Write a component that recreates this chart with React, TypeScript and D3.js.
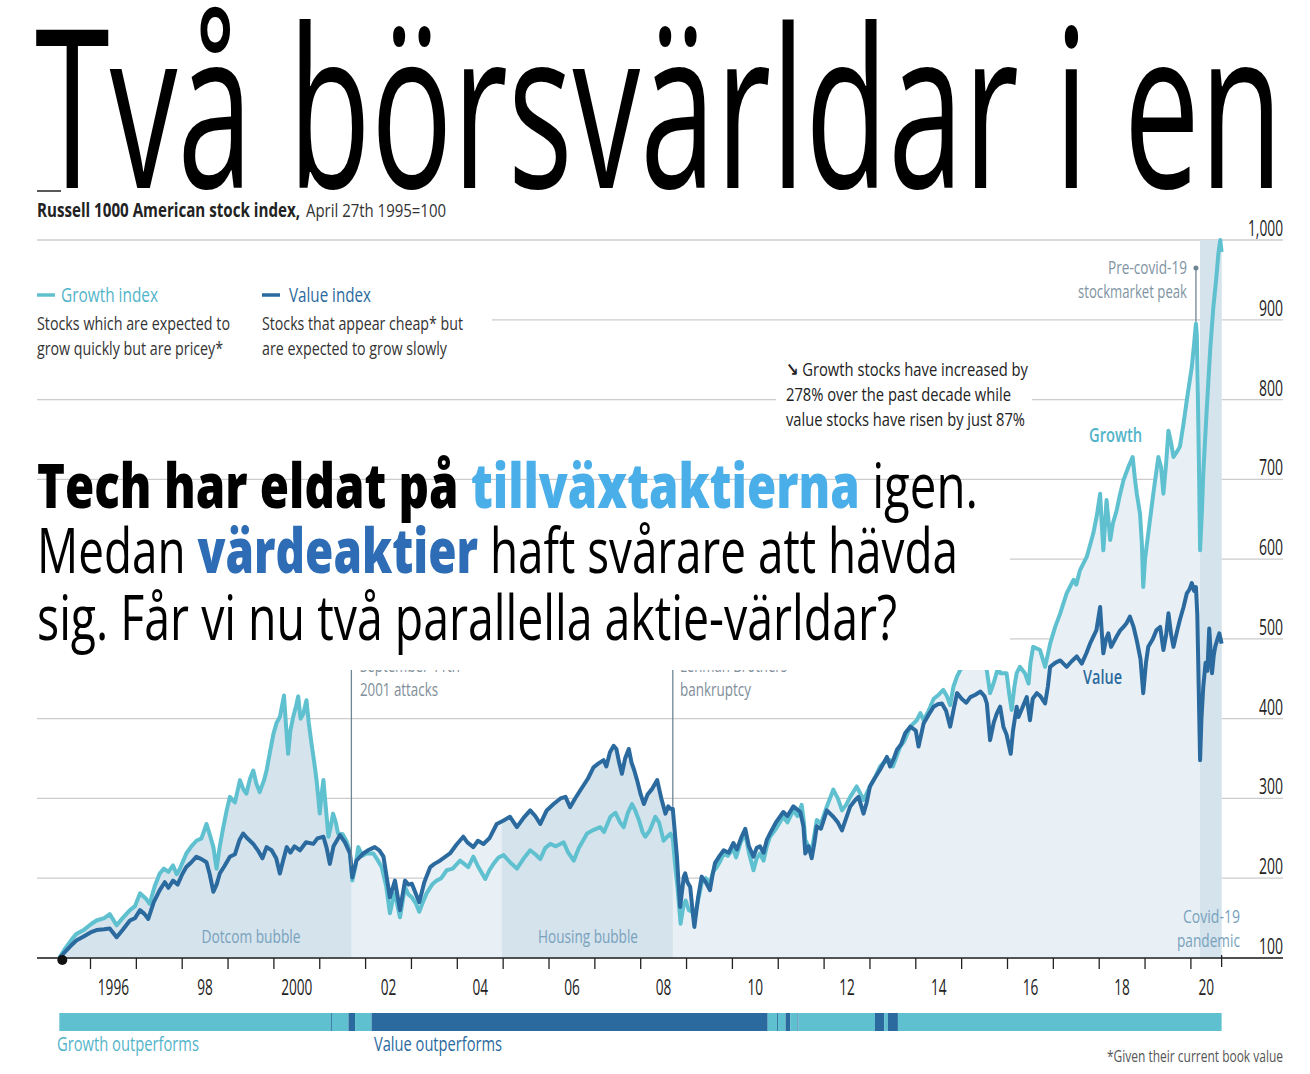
import * as React from 'react';
import * as d3 from 'd3';

// Russell 1000 growth / value, April 27th 1995 = 100, [decimal year, index]
const growthSeries: [number, number][] = [
  [1995.32, 100], [1995.45, 112], [1995.6, 124], [1995.69, 130], [1995.85, 135], [1996.0, 142],
  [1996.13, 147], [1996.3, 150], [1996.42, 155], [1996.57, 141], [1996.7, 150], [1996.86, 160],
  [1996.97, 165], [1997.08, 181], [1997.2, 175], [1997.29, 168], [1997.4, 190], [1997.51, 206],
  [1997.6, 212], [1997.7, 208], [1997.8, 216], [1997.88, 205], [1997.95, 212], [1998.09, 231],
  [1998.2, 240], [1998.31, 247], [1998.42, 250], [1998.53, 268], [1998.6, 255], [1998.68, 239],
  [1998.75, 212], [1998.82, 240], [1998.89, 262], [1998.97, 285], [1999.04, 302], [1999.15, 295],
  [1999.26, 323], [1999.33, 312], [1999.4, 306], [1999.48, 325], [1999.55, 335], [1999.62, 318],
  [1999.69, 308], [1999.78, 322], [1999.84, 335], [1999.92, 360], [1999.99, 381], [2000.06, 395],
  [2000.13, 402], [2000.22, 429], [2000.26, 395], [2000.31, 356], [2000.36, 385], [2000.42, 402],
  [2000.48, 415], [2000.53, 428], [2000.58, 400], [2000.64, 406], [2000.71, 423], [2000.76, 395],
  [2000.82, 369], [2000.88, 345], [2000.93, 323], [2000.97, 300], [2001.0, 281], [2001.04, 305],
  [2001.08, 323], [2001.13, 290], [2001.19, 252], [2001.24, 265], [2001.29, 281], [2001.35, 270],
  [2001.4, 256], [2001.5, 255], [2001.58, 247], [2001.65, 235], [2001.71, 197], [2001.78, 215],
  [2001.84, 239], [2001.93, 228], [2002.02, 231], [2002.17, 231], [2002.27, 222], [2002.35, 214],
  [2002.45, 190], [2002.53, 156], [2002.6, 175], [2002.64, 181], [2002.75, 151], [2002.86, 189],
  [2002.93, 180], [2003.01, 176], [2003.1, 168], [2003.17, 158], [2003.25, 170], [2003.33, 181],
  [2003.45, 192], [2003.55, 197], [2003.65, 200], [2003.77, 210], [2003.9, 212], [2004.06, 222],
  [2004.15, 218], [2004.24, 214], [2004.35, 227], [2004.45, 215], [2004.55, 205], [2004.61, 199],
  [2004.7, 210], [2004.79, 218], [2004.9, 226], [2005.01, 229], [2005.15, 220], [2005.3, 212],
  [2005.45, 225], [2005.59, 235], [2005.7, 230], [2005.81, 224], [2005.92, 238], [2006.03, 243],
  [2006.15, 240], [2006.32, 245], [2006.42, 232], [2006.54, 222], [2006.65, 238], [2006.75, 248],
  [2006.83, 256], [2006.95, 260], [2007.12, 264], [2007.2, 258], [2007.34, 277], [2007.45, 282],
  [2007.55, 270], [2007.63, 264], [2007.72, 282], [2007.81, 293], [2007.88, 285], [2007.96, 273],
  [2008.04, 258], [2008.1, 252], [2008.2, 260], [2008.32, 277], [2008.4, 270], [2008.5, 247],
  [2008.58, 252], [2008.65, 256], [2008.7, 250], [2008.76, 210], [2008.8, 190], [2008.87, 143],
  [2008.93, 165], [2008.98, 172], [2009.05, 160], [2009.12, 158], [2009.17, 150], [2009.25, 172],
  [2009.33, 194], [2009.42, 200], [2009.51, 194], [2009.58, 208], [2009.66, 214], [2009.74, 222],
  [2009.81, 231], [2009.9, 228], [2010.02, 237], [2010.08, 226], [2010.18, 245], [2010.28, 256],
  [2010.36, 232], [2010.46, 210], [2010.53, 225], [2010.6, 231], [2010.68, 222], [2010.75, 240],
  [2010.82, 252], [2010.95, 262], [2011.11, 277], [2011.2, 270], [2011.33, 285], [2011.42, 278],
  [2011.51, 292], [2011.56, 270], [2011.59, 248], [2011.66, 240], [2011.73, 235], [2011.79, 255],
  [2011.84, 273], [2011.93, 268], [2012.06, 290], [2012.2, 311], [2012.3, 300], [2012.39, 285],
  [2012.48, 292], [2012.57, 302], [2012.71, 315], [2012.8, 305], [2012.86, 298], [2013.0, 315],
  [2013.1, 325], [2013.22, 340], [2013.3, 345], [2013.44, 348], [2013.5, 340], [2013.66, 365],
  [2013.75, 372], [2013.88, 390], [2014.02, 398], [2014.1, 407], [2014.17, 398], [2014.28, 410],
  [2014.39, 425], [2014.5, 430], [2014.6, 436], [2014.68, 428], [2014.75, 417], [2014.82, 440],
  [2014.9, 453], [2014.97, 461], [2015.1, 470], [2015.25, 478], [2015.4, 482], [2015.5, 480],
  [2015.62, 432], [2015.7, 445], [2015.8, 465], [2015.84, 457], [2015.98, 457], [2016.04, 430],
  [2016.09, 411], [2016.15, 440], [2016.2, 457], [2016.27, 465], [2016.38, 457], [2016.46, 444],
  [2016.5, 470], [2016.56, 490], [2016.71, 486], [2016.82, 465], [2016.93, 494], [2017.04, 515],
  [2017.15, 532], [2017.29, 557], [2017.44, 574], [2017.5, 568], [2017.58, 586], [2017.73, 603],
  [2017.87, 632], [2017.95, 655], [2018.02, 682], [2018.06, 640], [2018.09, 611], [2018.16, 674],
  [2018.2, 650], [2018.24, 624], [2018.3, 645], [2018.38, 661], [2018.45, 680], [2018.53, 699],
  [2018.64, 716], [2018.73, 728], [2018.78, 700], [2018.82, 682], [2018.89, 657], [2018.93, 620],
  [2018.96, 565], [2019.0, 600], [2019.07, 632], [2019.18, 682], [2019.29, 728], [2019.35, 715],
  [2019.4, 682], [2019.46, 720], [2019.51, 761], [2019.57, 745], [2019.62, 728], [2019.7, 735],
  [2019.76, 741], [2019.84, 770], [2019.91, 799], [2020.02, 841], [2020.07, 870], [2020.11, 895],
  [2020.13, 880], [2020.15, 812], [2020.18, 700], [2020.2, 611], [2020.24, 660], [2020.27, 707],
  [2020.34, 782], [2020.42, 862], [2020.49, 916], [2020.55, 950], [2020.6, 983], [2020.64, 1000],
  [2020.67, 985],
];

const valueSeries: [number, number][] = [
  [1995.32, 100], [1995.45, 108], [1995.6, 117], [1995.69, 122], [1995.85, 127], [1996.0, 132],
  [1996.13, 135], [1996.3, 136], [1996.42, 137], [1996.57, 126], [1996.7, 135], [1996.86, 147],
  [1996.97, 150], [1997.08, 160], [1997.18, 155], [1997.26, 149], [1997.38, 170], [1997.51, 185],
  [1997.62, 195], [1997.7, 188], [1997.8, 197], [1997.9, 192], [1998.0, 205], [1998.09, 214],
  [1998.2, 220], [1998.31, 227], [1998.42, 224], [1998.53, 220], [1998.6, 205], [1998.68, 183],
  [1998.75, 192], [1998.82, 206], [1998.92, 215], [1999.04, 227], [1999.15, 230], [1999.25, 248],
  [1999.33, 256], [1999.42, 250], [1999.55, 243], [1999.65, 235], [1999.75, 225], [1999.84, 239],
  [1999.95, 235], [2000.05, 225], [2000.13, 206], [2000.2, 222], [2000.28, 239], [2000.36, 232],
  [2000.45, 240], [2000.57, 235], [2000.7, 245], [2000.86, 243], [2000.95, 250], [2001.08, 252],
  [2001.15, 238], [2001.22, 218], [2001.3, 240], [2001.44, 254], [2001.55, 245], [2001.66, 231],
  [2001.71, 201], [2001.8, 222], [2001.95, 231], [2002.05, 235], [2002.2, 239], [2002.3, 235],
  [2002.39, 227], [2002.45, 205], [2002.53, 176], [2002.64, 197], [2002.75, 160], [2002.86, 197],
  [2002.93, 192], [2003.01, 193], [2003.1, 180], [2003.17, 170], [2003.28, 195], [2003.41, 214],
  [2003.5, 218], [2003.62, 222], [2003.72, 226], [2003.84, 231], [2003.98, 242], [2004.13, 252],
  [2004.22, 245], [2004.35, 239], [2004.45, 247], [2004.57, 243], [2004.7, 250], [2004.86, 268],
  [2005.0, 272], [2005.15, 277], [2005.3, 264], [2005.45, 276], [2005.59, 285], [2005.7, 278],
  [2005.81, 268], [2005.95, 285], [2006.1, 293], [2006.25, 300], [2006.36, 302], [2006.46, 289],
  [2006.57, 300], [2006.68, 310], [2006.85, 325], [2006.97, 339], [2007.08, 344], [2007.19, 348],
  [2007.25, 340], [2007.33, 358], [2007.41, 366], [2007.47, 362], [2007.53, 345], [2007.59, 331],
  [2007.66, 350], [2007.74, 362], [2007.8, 345], [2007.86, 335], [2007.92, 323], [2008.0, 305],
  [2008.07, 293], [2008.15, 305], [2008.25, 312], [2008.36, 323], [2008.45, 300], [2008.54, 281],
  [2008.6, 290], [2008.65, 287], [2008.7, 287], [2008.76, 247], [2008.79, 227], [2008.83, 189],
  [2008.86, 164], [2008.94, 202], [2008.97, 206], [2009.02, 195], [2009.08, 189], [2009.13, 160],
  [2009.17, 139], [2009.25, 175], [2009.33, 202], [2009.42, 195], [2009.51, 185], [2009.57, 205],
  [2009.62, 219], [2009.72, 228], [2009.81, 235], [2009.92, 232], [2010.02, 244], [2010.1, 236],
  [2010.2, 252], [2010.28, 262], [2010.36, 240], [2010.46, 227], [2010.53, 238], [2010.6, 240],
  [2010.68, 232], [2010.75, 248], [2010.82, 256], [2010.95, 270], [2011.11, 283], [2011.2, 278],
  [2011.33, 290], [2011.48, 283], [2011.55, 265], [2011.59, 231], [2011.66, 240], [2011.73, 225],
  [2011.79, 245], [2011.84, 265], [2011.93, 262], [2012.06, 285], [2012.2, 277], [2012.3, 270],
  [2012.39, 260], [2012.48, 275], [2012.57, 290], [2012.68, 298], [2012.75, 302], [2012.86, 281],
  [2012.93, 295], [2013.0, 315], [2013.1, 325], [2013.22, 336], [2013.37, 352], [2013.44, 340],
  [2013.52, 350], [2013.59, 361], [2013.68, 368], [2013.77, 382], [2013.88, 390], [2014.0, 385],
  [2014.06, 365], [2014.17, 394], [2014.28, 405], [2014.39, 415], [2014.48, 418], [2014.57, 419],
  [2014.66, 410], [2014.75, 390], [2014.82, 410], [2014.9, 432], [2015.0, 425], [2015.1, 420],
  [2015.19, 427], [2015.3, 430], [2015.41, 434], [2015.5, 428], [2015.55, 419], [2015.62, 373],
  [2015.7, 395], [2015.77, 407], [2015.84, 415], [2015.91, 390], [2015.98, 380], [2016.07, 356],
  [2016.12, 385], [2016.2, 415], [2016.24, 402], [2016.42, 427], [2016.49, 398], [2016.55, 425],
  [2016.64, 432], [2016.72, 428], [2016.82, 419], [2016.88, 440], [2016.93, 465], [2017.04, 470],
  [2017.15, 473], [2017.29, 465], [2017.4, 472], [2017.51, 478], [2017.62, 469], [2017.72, 482],
  [2017.8, 494], [2017.94, 511], [2018.02, 540], [2018.06, 505], [2018.09, 482], [2018.15, 500],
  [2018.2, 507], [2018.26, 490], [2018.38, 503], [2018.45, 510], [2018.53, 515], [2018.6, 520],
  [2018.67, 528], [2018.75, 515], [2018.82, 498], [2018.9, 475], [2018.96, 432], [2019.02, 470],
  [2019.07, 490], [2019.17, 500], [2019.25, 511], [2019.33, 515], [2019.4, 486], [2019.46, 505],
  [2019.51, 532], [2019.57, 505], [2019.62, 490], [2019.7, 510], [2019.76, 524], [2019.84, 540],
  [2019.91, 557], [2019.97, 562], [2020.02, 570], [2020.07, 560], [2020.11, 565], [2020.14, 530],
  [2020.17, 440], [2020.2, 348], [2020.23, 400], [2020.27, 440], [2020.32, 470], [2020.36, 460],
  [2020.4, 513], [2020.44, 475], [2020.46, 457], [2020.5, 480], [2020.53, 490], [2020.58, 500],
  [2020.62, 507], [2020.67, 494],
];

const yTicks = [100, 200, 300, 400, 500, 600, 700, 800, 900, 1000];
const yearTicks = [1996, 1997, 1998, 1999, 2000, 2001, 2002, 2003, 2004, 2005, 2006, 2007, 2008,
  2009, 2010, 2011, 2012, 2013, 2014, 2015, 2016, 2017, 2018, 2019, 2020];
const yearLabels: [number, string][] = [[1996, '1996'], [1998, '98'], [2000, '2000'], [2002, '02'],
  [2004, '04'], [2006, '06'], [2008, '08'], [2010, '10'], [2012, '12'], [2014, '14'],
  [2016, '16'], [2018, '18'], [2020, '20']];

const startYear = 1995.32;
const endYear = 2020.67;

const bubbles = [
  { from: 1995.32, to: 2001.69, label: 'Dotcom bubble' },
  { from: 2004.97, to: 2008.7, label: 'Housing bubble' },
];
const covid = { from: 2020.2, to: 2020.67 };
const events = [
  { at: 2001.69, lines: ['September 11th', '2001 attacks'] },
  { at: 2008.7, lines: ['Lehman Brothers', 'bankruptcy'] },
];
const peakYear = 2020.11;

// who outperforms, [from, to, leader]
const leaders: [number, number, 'g' | 'v'][] = [
  [1995.32, 2001.245, 'g'], [2001.245, 2001.265, 'v'], [2001.265, 2001.627, 'g'],
  [2001.627, 2001.77, 'v'], [2001.77, 2002.13, 'g'], [2002.13, 2010.77, 'v'],
  [2010.77, 2010.975, 'g'], [2010.975, 2010.995, 'v'], [2010.995, 2011.16, 'g'],
  [2011.16, 2011.26, 'v'], [2011.26, 2011.42, 'g'], [2011.42, 2011.44, 'v'],
  [2011.44, 2013.11, 'g'], [2013.11, 2013.31, 'v'], [2013.31, 2013.39, 'g'],
  [2013.39, 2013.61, 'v'], [2013.61, 2020.67, 'g'],
];

const GROWTH = '#5fc0d0';
const VALUE = '#2b6a9e';
const GROWTH_TXT = '#52b4c9';
const FONT = "'Open Sans', sans-serif";

const x = d3.scaleLinear().domain([1996, 2020]).range([90.5, 1190.9]);
const y = d3.scaleLinear().domain([100, 1000]).range([958, 240]);

function interp(s: [number, number][], t: number): number {
  const i = d3.bisector((d: [number, number]) => d[0]).left(s, t);
  if (i <= 0) return s[0][1];
  if (i >= s.length) return s[s.length - 1][1];
  const [x0, y0] = s[i - 1];
  const [x1, y1] = s[i];
  if (x1 === t) return y1;
  return y0 + (y1 - y0) * (t - x0) / (x1 - x0);
}

function Txt(props: { x: number; y: number; w?: number; size?: number; anchor?: string; weight?: number; fill?: string; children: React.ReactNode }) {
  const { x, y, w, size = 19, anchor = 'start', weight = 400, fill = '#333', children } = props;
  return (
    <text x={x} y={y} fontSize={size} fontWeight={weight} fill={fill} textAnchor={anchor}
      textLength={w} lengthAdjust={w ? 'spacingAndGlyphs' : undefined} fontFamily={FONT}>
      {children}
    </text>
  );
}

export default function App() {
  const years = Array.from(new Set([...growthSeries.map(d => d[0]), ...valueSeries.map(d => d[0])])).sort((a, b) => a - b);
  const envelope: [number, number][] = years.map(t => [t, Math.max(interp(growthSeries, t), interp(valueSeries, t))]);

  const line = d3.line<[number, number]>().x(d => x(d[0])).y(d => y(d[1]));
  const area = d3.area<[number, number]>().x(d => x(d[0])).y0(y(100)).y1(d => y(d[1]));

  return (
    <svg width={1310} height={1074} style={{ position: 'absolute', left: 0, top: 0, background: '#fff' }}>
      <defs>
        {bubbles.map((b, i) => (
          <clipPath id={`bubble-${i}`} key={i}>
            <rect x={x(b.from)} y={0} width={x(b.to) - x(b.from)} height={1074} />
          </clipPath>
        ))}
      </defs>

      {/* title */}
      <text x={35} y={188} fontSize={222} fontFamily={FONT} fill="#000" textLength={1248} lengthAdjust="spacingAndGlyphs">Två börsvärldar i en</text>
      <line x1={37} x2={61} y1={191} y2={191} stroke="#222" strokeWidth={1.5} />
      <Txt x={37} y={217} w={263} size={19} weight={700} fill="#222">Russell 1000 American stock index,</Txt>
      <Txt x={306} y={217} w={140} size={19} fill="#333">April 27th 1995=100</Txt>

      {/* grid */}
      {yTicks.map(t => (
        <line key={t} x1={37} x2={1283} y1={y(t)} y2={y(t)} stroke="#cccccc" strokeWidth={1.3} />
      ))}

      {/* shading */}
      <path d={area(envelope) || ''} fill="#e9f0f5" />
      {bubbles.map((b, i) => (
        <path key={i} d={area(envelope) || ''} fill="#d4e3ec" clipPath={`url(#bubble-${i})`} />
      ))}
      <rect x={x(covid.from)} y={y(1000)} width={x(covid.to) - x(covid.from)} height={y(100) - y(1000)} fill="#d4e3ec" />

      {/* lines */}
      <path d={line(growthSeries) || ''} fill="none" stroke={GROWTH} strokeWidth={4} strokeLinejoin="round" />
      <path d={line(valueSeries) || ''} fill="none" stroke={VALUE} strokeWidth={4} strokeLinejoin="round" />

      {/* event markers */}
      {events.map((e, i) => (
        <line key={i} x1={x(e.at)} x2={x(e.at)} y1={655} y2={y(interp(envelope, e.at)) - 2} stroke="#6f8594" strokeWidth={1.3} />
      ))}
      <line x1={x(peakYear)} x2={x(peakYear)} y1={268} y2={y(interp(growthSeries, peakYear)) - 2} stroke="#6f8594" strokeWidth={1.3} />
      <circle cx={x(peakYear)} cy={268} r={2.5} fill="#6f8594" />
      <Txt x={1187} y={274} w={79} size={18} anchor="end" fill="#8094a3">Pre-covid-19</Txt>
      <Txt x={1187} y={298} w={109} size={18} anchor="end" fill="#8094a3">stockmarket peak</Txt>

      {/* x axis */}
      <line x1={37} x2={1283} y1={958} y2={958} stroke="#222" strokeWidth={1.5} />
      {yearTicks.map(t => (
        <line key={t} x1={x(t)} x2={x(t)} y1={958} y2={969} stroke="#222" strokeWidth={1.3} />
      ))}
      <line x1={x(endYear)} x2={x(endYear)} y1={955} y2={967} stroke="#222" strokeWidth={1.3} />
      {yearLabels.map(([t, s]) => {
        const mid = t === 2020 ? (x(t) + x(endYear)) / 2 : x(t + 0.5);
        return <Txt key={t} x={mid} y={995} w={s.length * 7.8} size={21} anchor="middle" fill="#222">{s}</Txt>;
      })}
      <circle cx={x(startYear) + 3} cy={960} r={5} fill="#111" />

      {/* y labels */}
      {yTicks.map(t => {
        const s = d3.format(',')(t);
        return <Txt key={t} x={1283} y={y(t) - 4} w={s.length === 5 ? 35 : 24} size={21} anchor="end" fill="#222">{s}</Txt>;
      })}

      {/* bubble labels */}
      <Txt x={251} y={943} w={99} size={19} anchor="middle" fill="#79a1bc">{bubbles[0].label}</Txt>
      <Txt x={588} y={943} w={100} size={19} anchor="middle" fill="#79a1bc">{bubbles[1].label}</Txt>
      <Txt x={1240} y={923} w={57} size={19} anchor="end" fill="#79a1bc">Covid-19</Txt>
      <Txt x={1240} y={947} w={63} size={19} anchor="end" fill="#79a1bc">pandemic</Txt>

      {/* series labels */}
      <Txt x={1089} y={442} w={53} size={20} weight={600} fill={GROWTH_TXT}>Growth</Txt>
      <Txt x={1083} y={684} w={39} size={20} weight={600} fill={VALUE}>Value</Txt>

      {/* event labels */}
      <Txt x={360} y={672} w={100} size={18} fill="#7f8e99">{events[0].lines[0]}</Txt>
      <Txt x={680} y={672} w={107} size={18} fill="#7f8e99">{events[1].lines[0]}</Txt>

      {/* white panels */}
      <rect x={30} y={280} width={462} height={80} fill="#fff" />
      <rect x={776} y={352} width={256} height={80} fill="#fff" />
      <rect x={30} y={482} width={980} height={188} fill="#fff" />

      <Txt x={360} y={696} w={78} size={18} fill="#7f8e99">{events[0].lines[1]}</Txt>
      <Txt x={680} y={696} w={71} size={18} fill="#7f8e99">{events[1].lines[1]}</Txt>

      {/* legend */}
      <line x1={37} x2={55} y1={295} y2={295} stroke={GROWTH} strokeWidth={3.5} />
      <Txt x={61} y={302} w={97} size={20} weight={500} fill={GROWTH_TXT}>Growth index</Txt>
      <Txt x={37} y={330} w={193} size={19}>Stocks which are expected to</Txt>
      <Txt x={37} y={355} w={186} size={19}>grow quickly but are pricey*</Txt>
      <line x1={262} x2={280} y1={295} y2={295} stroke={VALUE} strokeWidth={3.5} />
      <Txt x={289} y={302} w={82} size={20} weight={500} fill={VALUE}>Value index</Txt>
      <Txt x={262} y={330} w={201} size={19}>Stocks that appear cheap* but</Txt>
      <Txt x={262} y={355} w={185} size={19}>are expected to grow slowly</Txt>

      {/* annotation */}
      <text x={786} y={376} fontSize={19} fontFamily={FONT} fill="#222" textLength={242} lengthAdjust="spacingAndGlyphs">
        <tspan fontFamily="'DejaVu Sans', sans-serif" fontWeight={700}>↘</tspan> Growth stocks have increased by
      </text>
      <Txt x={786} y={401} w={225} size={19} fill="#222">278% over the past decade while</Txt>
      <Txt x={786} y={426} w={239} size={19} fill="#222">value stocks have risen by just 87%</Txt>

      {/* headline */}
      <text x={37} y={508} fontSize={62} fontFamily={FONT} fill="#000" textLength={941} lengthAdjust="spacingAndGlyphs">
        <tspan fontWeight={800}>Tech har eldat på </tspan>
        <tspan fontWeight={800} fill="#4aaee8">tillväxtaktierna</tspan>
        <tspan fontWeight={400}> igen.</tspan>
      </text>
      <text x={37} y={573} fontSize={62} fontFamily={FONT} fill="#000" textLength={921} lengthAdjust="spacingAndGlyphs">
        <tspan fontWeight={400}>Medan </tspan>
        <tspan fontWeight={800} fill="#2e6db5">värdeaktier</tspan>
        <tspan fontWeight={400}> haft svårare att hävda</tspan>
      </text>
      <text x={37} y={640} fontSize={62} fontFamily={FONT} fill="#000" textLength={860} lengthAdjust="spacingAndGlyphs">
        sig. Får vi nu två parallella aktie-världar?
      </text>

      {/* outperformance bar */}
      {leaders.map(([a, b, who], i) => (
        <rect key={i} x={x(a)} y={1013} width={Math.max(0.8, x(b) - x(a))} height={18} fill={who === 'g' ? GROWTH : VALUE} />
      ))}
      <Txt x={57} y={1051} w={142} size={20} fill={GROWTH_TXT}>Growth outperforms</Txt>
      <Txt x={374} y={1051} w={128} size={20} fill={VALUE}>Value outperforms</Txt>
      <Txt x={1283} y={1062} w={176} size={16} anchor="end" fill="#555">*Given their current book value</Txt>
    </svg>
  );
}
